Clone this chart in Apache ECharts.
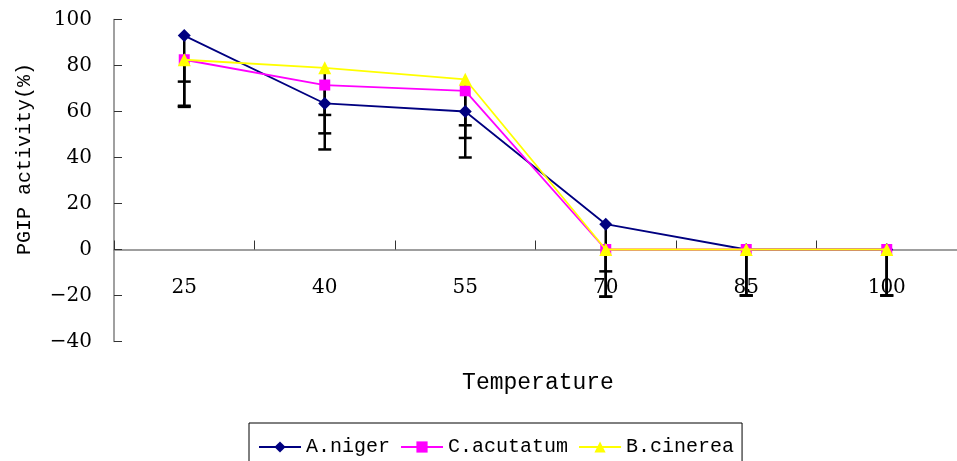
<!DOCTYPE html>
<html>
<head>
<meta charset="utf-8">
<script src="https://cdn.jsdelivr.net/npm/echarts@6/dist/echarts.min.js"></script>
<style>
  html, body { margin: 0; padding: 0; background: #fff; }
  #chart { width: 957px; height: 461px; }
</style>
</head>
<body>
<div id="chart"></div>
<script>
// data
var temps = ["25", "40", "55", "70", "85", "100"];
var aNiger = [93, 63.5, 60, 11, 0, 0];
var cAcutatum = [82.5, 71.5, 69, 0, 0, 0];
var bCinerea = [82.5, 79, 74, 0, 0, 0];
// minus-only error bars
var aNigerErr = [31, 20, 20, 20.5, 20, 20];
var cAcutatumErr = [9.5, 13, 15, 20.5, 20, 20];
var bCinereaErr = [20, 28.5, 25.5, 20.5, 20, 20];

var serifFont = "DejaVu Serif";
var monoFont = "Liberation Mono";

var myChart = echarts.init(document.getElementById("chart"));

// error bar items: [category index, value, minus error]
function errItems(vals, errs) {
  var out = [];
  for (var i = 0; i < vals.length; i++) {
    out.push([i, vals[i], errs[i]]);
  }
  return out;
}
var errData = errItems(aNiger, aNigerErr)
  .concat(errItems(cAcutatum, cAcutatumErr))
  .concat(errItems(bCinerea, bCinereaErr));

function renderErr(params, api) {
  var idx = api.value(0);
  var top = api.coord([idx, api.value(1)]);
  var bottom = api.coord([idx, api.value(1) - api.value(2)]);
  var half = 6.5;
  var style = { stroke: "#000", lineWidth: 2.5 };
  return {
    type: "group",
    children: [
      { type: "line", shape: { x1: top[0], y1: top[1], x2: bottom[0], y2: bottom[1] }, style: style },
      { type: "line", shape: { x1: bottom[0] - half, y1: bottom[1], x2: bottom[0] + half, y2: bottom[1] }, style: style }
    ]
  };
}

// grid runs from 100 (top 19.5) to -40 (bottom 341.5); the x axis sits at 0
var gridTop = 19.5, gridBottomPx = 341.5;
var zeroOffset = -(gridBottomPx - (gridTop + (gridBottomPx - gridTop) * 100 / 140));

var option = {
  animation: false,
  grid: { left: 114, right: -7, top: gridTop, bottom: 461 - gridBottomPx },
  xAxis: {
    type: "category",
    data: temps,
    offset: zeroOffset,
    axisLine: { onZero: false, lineStyle: { color: "#808080", width: 1.5 } },
    axisTick: { show: true, interval: 0, alignWithLabel: false, inside: true, length: 9, lineStyle: { color: "#333", width: 1 } },
    axisLabel: { color: "#000", fontFamily: serifFont, fontSize: 20, margin: 28 }
  },
  yAxis: {
    type: "value",
    min: -40,
    max: 100,
    interval: 20,
    splitLine: { show: false },
    axisLine: { show: true, lineStyle: { color: "#808080", width: 1.5 } },
    axisTick: { show: true, inside: true, length: 8, lineStyle: { color: "#333", width: 1 } },
    axisLabel: {
      color: "#000", fontFamily: serifFont, fontSize: 20, margin: 22,
      formatter: function (v) { return String(v).replace("-", "\u2212"); }
    }
  },
  legend: {
    data: ["A.niger", "C.acutatum", "B.cinerea"],
    left: 249,
    top: 423,
    padding: [14, 8, 30, 9],
    itemWidth: 42,
    itemHeight: 14,
    itemGap: 10,
    borderColor: "#000",
    borderWidth: 1,
    textStyle: { color: "#000", fontFamily: monoFont, fontSize: 20 }
  },
  graphic: [
    {
      type: "text", x: 25, y: 159, rotation: Math.PI / 2,
      style: { text: "PGIP activity(%)", fill: "#000", font: "20px " + monoFont, textAlign: "center", textVerticalAlign: "middle" }
    },
    {
      type: "text", x: 538, y: 383,
      style: { text: "Temperature", fill: "#000", font: "23px " + monoFont, textAlign: "center", textVerticalAlign: "middle" }
    }
  ],
  series: [
    {
      name: "errors",
      type: "custom",
      renderItem: renderErr,
      data: errData,
      z: 1
    },
    {
      name: "A.niger",
      type: "line",
      data: aNiger,
      symbol: "diamond",
      symbolSize: 13,
      color: "#000080",
      lineStyle: { width: 1.8 },
      z: 3
    },
    {
      name: "C.acutatum",
      type: "line",
      data: cAcutatum,
      symbol: "rect",
      symbolSize: 11,
      color: "#FF00FF",
      lineStyle: { width: 1.8 },
      z: 4
    },
    {
      name: "B.cinerea",
      type: "line",
      data: bCinerea,
      symbol: "triangle",
      symbolSize: 13,
      color: "#FFFF00",
      lineStyle: { width: 1.8 },
      z: 5
    }
  ]
};
myChart.setOption(option);
</script>
</body>
</html>
